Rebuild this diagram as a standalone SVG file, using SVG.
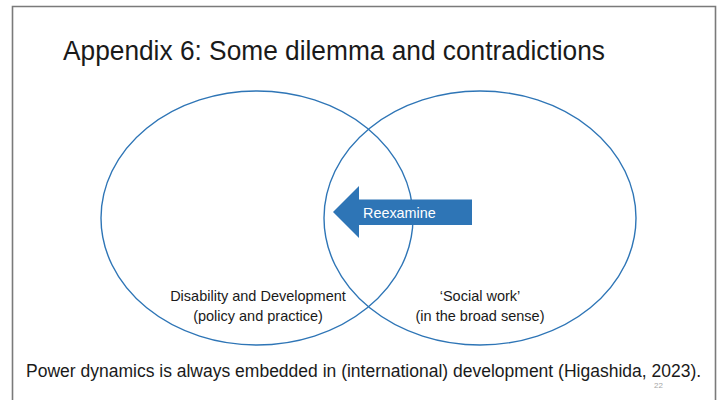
<svg xmlns="http://www.w3.org/2000/svg" width="721" height="400" viewBox="0 0 721 400">
  <style>
    text { font-family: "Liberation Sans", Arial, sans-serif; fill: #1a1a1a; }
    .set { fill: none; stroke: #2E75B6; stroke-width: 1.4; }
    .label { font-size: 14.5px; text-anchor: middle; }
  </style>
  <rect width="721" height="400" fill="#ffffff"/>
  <!-- slide frame -->
  <path d="M12.5,402 V6.5 H715.5 V402" fill="none" stroke="#7a7a7a" stroke-width="1.6"/>

  <text x="63" y="60" font-size="27" textLength="542" lengthAdjust="spacingAndGlyphs">Appendix 6: Some dilemma and contradictions</text>

  <g id="disability-development">
    <ellipse class="set" cx="257" cy="218" rx="156" ry="127"/>
    <text class="label" x="258" y="301">Disability and Development</text>
    <text class="label" x="258" y="321">(policy and practice)</text>
  </g>

  <g id="social-work">
    <ellipse class="set" cx="480" cy="218" rx="156" ry="127"/>
    <text class="label" x="480" y="301">‘Social work’</text>
    <text class="label" x="480" y="321">(in the broad sense)</text>
  </g>

  <g id="connectors">
    <g id="reexamine">
      <polygon points="333,212 359,186 359,199.5 472,199.5 472,225 359,225 359,238" fill="#2E75B6"/>
      <text x="363" y="218" font-size="14.4" style="fill:#ffffff">Reexamine</text>
    </g>
  </g>

  <text x="26" y="377" font-size="17.5">Power dynamics is always embedded in (international) development (Higashida, 2023).</text>
  <text x="658.5" y="388" font-size="8" text-anchor="middle" style="fill:#a6a6a6">22</text>
</svg>
